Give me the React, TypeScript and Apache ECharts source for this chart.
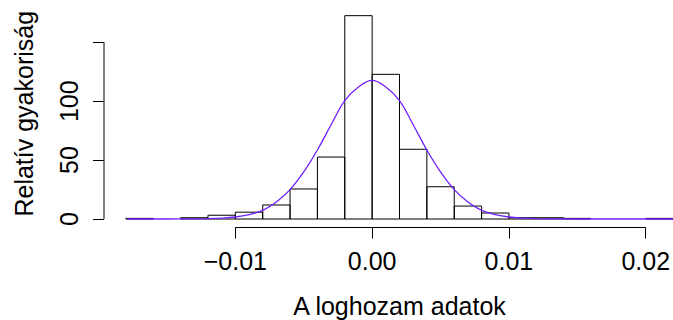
import React, { useEffect, useRef } from "react";
import * as echarts from "echarts";

// Histogram breaks (bin edges) and relative frequencies (density) per bin
const breaks = [
  -0.018, -0.016, -0.014, -0.012, -0.01, -0.008, -0.006, -0.004, -0.002, 0,
  0.002, 0.004, 0.006, 0.008, 0.01, 0.012, 0.014, 0.016, 0.018, 0.02, 0.022,
];
const densities = [
  0.55, 0, 1.1, 3.2, 5.8, 11.9, 25.5, 52.6, 172.6, 122.8,
  59.2, 27.4, 11.0, 5.1, 1.1, 1.1, 0.55, 0, 0, 0.55,
];

// Fitted density curve
const curveX = [
  -0.0179, -0.016, -0.014, -0.012, -0.011, -0.01, -0.009, -0.008, -0.007, -0.006,
  -0.005, -0.004, -0.003, -0.002, -0.001, 0, 0.001, 0.002, 0.003, 0.004,
  0.005, 0.006, 0.007, 0.008, 0.009, 0.01, 0.011, 0.012, 0.014, 0.016,
  0.018, 0.02, 0.022,
];
const curveY = [
  0, 0.01, 0.05, 0.3, 0.7, 1.7, 3.8, 7.3, 14.5, 25,
  40, 58.6, 80, 100.5, 112, 117.7, 112, 100.5, 80, 58.6,
  40, 25, 14.5, 7.3, 3.8, 1.7, 0.7, 0.3, 0.05, 0.01,
  0, 0, 0,
];

const xTicks = [-0.01, 0, 0.01, 0.02];
const xTickLabels = ["\u22120.01", "0.00", "0.01", "0.02"];
const yTicks = [0, 50, 100, 150];
const yTickLabels = [0, 50, 100];

const xTitle = "A loghozam adatok";
const yTitle = "Relatív gyakoriság";

const X_MIN = -0.0196;
const X_MAX = 0.0236;
const Y_MIN = -7.2;
const Y_MAX = 185.9;

const FONT = '"Liberation Sans", Arial, Helvetica, sans-serif';
const CURVE_COLOR = "#7020FF";

export default function App() {
  const ref = useRef<HTMLDivElement>(null);

  useEffect(() => {
    if (!ref.current) return;
    const chart = echarts.init(ref.current, undefined, { renderer: "svg" });

    const binData = densities.map((d, i) => [breaks[i], breaks[i + 1], d]);
    const curveData = curveX.map((x, i) => [x, curveY[i]]);

    chart.setOption({
      animation: false,
      backgroundColor: "#ffffff",
      grid: {
        left: 104,
        width: 591,
        top: 0,
        height: 227.5,
        containLabel: false,
        outerBoundsMode: "none",
      },
      xAxis: {
        type: "value",
        min: X_MIN,
        max: X_MAX,
        name: xTitle,
        nameLocation: "middle",
        nameGap: 66,
        nameTextStyle: { fontFamily: FONT, fontSize: 25, color: "#000" },
        axisLine: { show: false, onZero: false },
        splitLine: { show: false },
        axisTick: {
          show: true,
          length: 11,
          customValues: xTicks,
          lineStyle: { color: "#000", width: 1 },
        },
        axisLabel: {
          show: true,
          customValues: xTicks,
          margin: 21,
          fontFamily: FONT,
          fontSize: 25,
          color: "#000",
          hideOverlap: false,
          formatter: (v: number) => {
            const idx = xTicks.findIndex((t) => Math.abs(t - v) < 1e-9);
            return idx >= 0 ? xTickLabels[idx] : "";
          },
        },
      },
      yAxis: {
        type: "value",
        min: Y_MIN,
        max: Y_MAX,
        name: yTitle,
        nameLocation: "middle",
        nameRotate: 90,
        nameGap: 68,
        nameTextStyle: { fontFamily: FONT, fontSize: 25, color: "#000" },
        axisLine: { show: false, onZero: false },
        splitLine: { show: false },
        axisTick: {
          show: true,
          length: 11,
          customValues: yTicks,
          lineStyle: { color: "#000", width: 1 },
        },
        axisLabel: {
          show: true,
          customValues: yTickLabels,
          rotate: 90,
          margin: 23,
          fontFamily: FONT,
          fontSize: 25,
          color: "#000",
        },
      },
      series: [
        {
          type: "custom",
          name: "hist",
          silent: true,
          clip: false,
          encode: { x: [0, 1], y: 2 },
          data: binData,
          renderItem: (params: any, api: any) => {
            const h = api.value(2);
            if (!(h > 0)) return null;
            const p0 = api.coord([api.value(0), 0]);
            const p1 = api.coord([api.value(1), h]);
            return {
              type: "rect",
              shape: {
                x: p0[0],
                y: p1[1],
                width: p1[0] - p0[0],
                height: p0[1] - p1[1],
              },
              style: { fill: "none", stroke: "#000", lineWidth: 1 },
            };
          },
          z: 2,
        },
        {
          type: "line",
          name: "curve",
          data: curveData,
          smooth: 0.4,
          symbol: "none",
          silent: true,
          lineStyle: { color: CURVE_COLOR, width: 1.3 },
          z: 3,
        },
        {
          type: "line",
          name: "xaxisline",
          data: [
            [xTicks[0], Y_MIN],
            [xTicks[xTicks.length - 1], Y_MIN],
          ],
          symbol: "none",
          silent: true,
          clip: false,
          lineStyle: { color: "#000", width: 1 },
          z: 4,
        },
        {
          type: "line",
          name: "yaxisline",
          data: [
            [X_MIN, yTicks[0]],
            [X_MIN, yTicks[yTicks.length - 1]],
          ],
          symbol: "none",
          silent: true,
          clip: false,
          lineStyle: { color: "#000", width: 1 },
          z: 4,
        },
      ],
    });

    return () => {
      chart.dispose();
    };
  }, []);

  return (
    <div
      ref={ref}
      style={{ position: "absolute", left: 0, top: 0, width: 673, height: 320, background: "#fff" }}
    />
  );
}
